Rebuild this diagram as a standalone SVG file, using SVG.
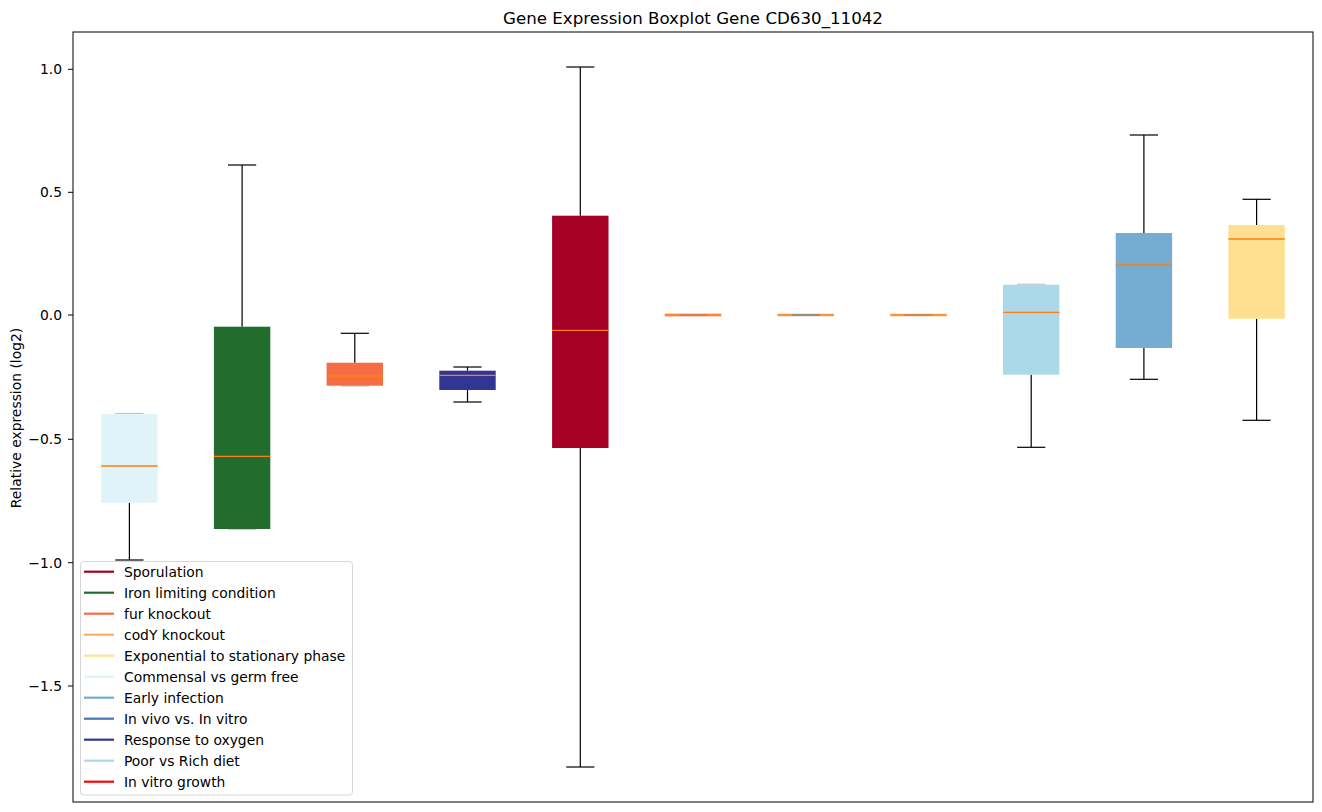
<svg xmlns="http://www.w3.org/2000/svg" width="1322" height="812" viewBox="0 0 1322 812">
<style>
text{font-family:"DejaVu Sans","Liberation Sans",sans-serif;fill:#000}
.tick{font-size:13.89px;text-anchor:end}
.leg{font-size:13.89px}
.wh{stroke:#000;stroke-width:1.2;fill:none}
.cap{stroke:#000;stroke-width:1.2}
.capg{stroke:#c4c4c4;stroke-width:1.2}
.med{stroke:#ff7f0e;stroke-width:1.3}
.ll{stroke-width:2.2}
</style>
<rect x="0" y="0" width="1322" height="812" fill="#fff"/>
<text x="693" y="23.5" font-size="16.67" text-anchor="middle">Gene Expression Boxplot Gene CD630_11042</text>
<g id="axes">
<rect x="73" y="32" width="1240" height="770" fill="none" stroke="#000" stroke-width="1"/>
<g stroke="#000" stroke-width="1">
<line x1="68" y1="69.3" x2="73" y2="69.3"/>
<line x1="68" y1="192.3" x2="73" y2="192.3"/>
<line x1="68" y1="315" x2="73" y2="315"/>
<line x1="68" y1="439.3" x2="73" y2="439.3"/>
<line x1="68" y1="562.7" x2="73" y2="562.7"/>
<line x1="68" y1="686" x2="73" y2="686"/>
</g>
<text class="tick" x="62" y="74.3">1.0</text>
<text class="tick" x="62" y="197.3">0.5</text>
<text class="tick" x="62" y="320">0.0</text>
<text class="tick" x="62" y="444.3">−0.5</text>
<text class="tick" x="62" y="567.7">−1.0</text>
<text class="tick" x="62" y="691">−1.5</text>
<text font-size="13.89" text-anchor="middle" transform="translate(21,418) rotate(-90)">Relative expression (log2)</text>
</g>
<g id="connectors">
<line class="wh" x1="129.4" y1="502.7" x2="129.4" y2="560"/>
<line class="wh" x1="242.1" y1="165" x2="242.1" y2="326.7"/>
<line class="wh" x1="354.8" y1="333.3" x2="354.8" y2="362.7"/>
<line class="wh" x1="467.5" y1="367" x2="467.5" y2="370.7"/>
<line class="wh" x1="467.5" y1="390" x2="467.5" y2="402"/>
<line class="wh" x1="580.3" y1="67" x2="580.3" y2="215.7"/>
<line class="wh" x1="580.3" y1="448" x2="580.3" y2="767"/>
<line class="wh" x1="1031.2" y1="374.7" x2="1031.2" y2="447.3"/>
<line class="wh" x1="1143.9" y1="135" x2="1143.9" y2="233"/>
<line class="wh" x1="1143.9" y1="348" x2="1143.9" y2="379.3"/>
<line class="wh" x1="1256.6" y1="199.3" x2="1256.6" y2="225"/>
<line class="wh" x1="1256.6" y1="318.7" x2="1256.6" y2="420.3"/>
</g>
<g id="box1">
<line class="capg" x1="115.3" y1="413.5" x2="143.5" y2="413.5"/>
<line class="cap" x1="115.3" y1="560" x2="143.5" y2="560"/>
<rect x="101.2" y="414" width="56.4" height="88.7" fill="#e0f3f8"/>
<line class="med" x1="101.2" y1="466" x2="157.6" y2="466"/>
</g>
<g id="box2">
<line class="cap" x1="228" y1="165" x2="256.2" y2="165"/>
<line class="capg" x1="228" y1="529.3" x2="256.2" y2="529.3"/>
<rect x="213.9" y="326.7" width="56.4" height="202.3" fill="#226c2e"/>
<line class="med" x1="213.9" y1="456.3" x2="270.3" y2="456.3"/>
</g>
<g id="box3">
<line class="cap" x1="340.7" y1="333.3" x2="368.9" y2="333.3"/>
<line class="capg" x1="340.7" y1="386" x2="368.9" y2="386"/>
<rect x="326.6" y="362.7" width="56.4" height="23" fill="#f46d43"/>
<line class="med" x1="326.6" y1="376" x2="383" y2="376"/>
</g>
<g id="box4">
<line class="cap" x1="453.4" y1="367" x2="481.6" y2="367"/>
<line class="cap" x1="453.4" y1="402" x2="481.6" y2="402"/>
<rect x="439.3" y="370.7" width="56.4" height="19.3" fill="#313695"/>
<line class="med" x1="439.3" y1="375.3" x2="495.7" y2="375.3"/>
</g>
<g id="box5">
<line class="cap" x1="566.2" y1="67" x2="594.4" y2="67"/>
<line class="cap" x1="566.2" y1="767" x2="594.4" y2="767"/>
<rect x="552.1" y="215.7" width="56.4" height="232.3" fill="#a50026"/>
<line class="med" x1="552.1" y1="330.3" x2="608.5" y2="330.3"/>
</g>
<g id="box6">
<line x1="664.8" y1="315" x2="721.2" y2="315" stroke="#f9a07e" stroke-width="3"/>
<line class="med" x1="664.8" y1="315" x2="721.2" y2="315" stroke="#f4743c"/>
<line x1="678.9" y1="315" x2="707.1" y2="315" stroke="#d9804a" stroke-width="2"/>
</g>
<g id="box7">
<line x1="777.5" y1="315" x2="833.9" y2="315" stroke="#e2d2bd" stroke-width="3"/>
<line class="med" x1="777.5" y1="315" x2="833.9" y2="315" stroke="#ee8a3a"/>
<line x1="791.6" y1="315" x2="819.8" y2="315" stroke="#9c8c78" stroke-width="2"/>
</g>
<g id="box8">
<line x1="890.3" y1="315" x2="946.7" y2="315" stroke="#fdd2a6" stroke-width="3"/>
<line class="med" x1="890.3" y1="315" x2="946.7" y2="315" stroke="#fb8b25"/>
<line x1="904.4" y1="315" x2="932.6" y2="315" stroke="#cd8a50" stroke-width="2"/>
</g>
<g id="box9">
<line class="capg" x1="1017.1" y1="284.2" x2="1045.3" y2="284.2"/>
<line class="cap" x1="1017.1" y1="447.3" x2="1045.3" y2="447.3"/>
<rect x="1003" y="284.7" width="56.4" height="90" fill="#abd9e9"/>
<line class="med" x1="1003" y1="312.3" x2="1059.4" y2="312.3"/>
</g>
<g id="box10">
<line class="cap" x1="1129.8" y1="135" x2="1158" y2="135"/>
<line class="cap" x1="1129.8" y1="379.3" x2="1158" y2="379.3"/>
<rect x="1115.7" y="233" width="56.4" height="115" fill="#74add1"/>
<line class="med" x1="1115.7" y1="265" x2="1172.1" y2="265"/>
</g>
<g id="box11">
<line class="cap" x1="1242.5" y1="199.3" x2="1270.7" y2="199.3"/>
<line class="cap" x1="1242.5" y1="420.3" x2="1270.7" y2="420.3"/>
<rect x="1228.4" y="225" width="56.4" height="93.7" fill="#fee090"/>
<line class="med" x1="1228.4" y1="239" x2="1284.8" y2="239"/>
</g>
<g id="legend">
<rect x="80.5" y="561.5" width="272" height="233.5" rx="3" fill="#fff" fill-opacity="0.8" stroke="#d6d6d6" stroke-width="1"/>
<line class="ll" x1="84" y1="571.7" x2="114" y2="571.7" stroke="#a50026"/>
<line class="ll" x1="84" y1="592.7" x2="114" y2="592.7" stroke="#226c2e"/>
<line class="ll" x1="84" y1="613.7" x2="114" y2="613.7" stroke="#f46d43"/>
<line class="ll" x1="84" y1="634.7" x2="114" y2="634.7" stroke="#fdae61"/>
<line class="ll" x1="84" y1="655.7" x2="114" y2="655.7" stroke="#fee090"/>
<line class="ll" x1="84" y1="676.7" x2="114" y2="676.7" stroke="#e0f3f8"/>
<line class="ll" x1="84" y1="697.7" x2="114" y2="697.7" stroke="#74add1"/>
<line class="ll" x1="84" y1="718.7" x2="114" y2="718.7" stroke="#4575b4"/>
<line class="ll" x1="84" y1="739.7" x2="114" y2="739.7" stroke="#313695"/>
<line class="ll" x1="84" y1="760.7" x2="114" y2="760.7" stroke="#abd9e9"/>
<line class="ll" x1="84" y1="781.7" x2="114" y2="781.7" stroke="#ff0000"/>
<text class="leg" x="124" y="576.7">Sporulation</text>
<text class="leg" x="124" y="597.7">Iron limiting condition</text>
<text class="leg" x="124" y="618.7">fur knockout</text>
<text class="leg" x="124" y="639.7">codY knockout</text>
<text class="leg" x="124" y="660.7">Exponential to stationary phase</text>
<text class="leg" x="124" y="681.7">Commensal vs germ free</text>
<text class="leg" x="124" y="702.7">Early infection</text>
<text class="leg" x="124" y="723.7">In vivo vs. In vitro</text>
<text class="leg" x="124" y="744.7">Response to oxygen</text>
<text class="leg" x="124" y="765.7">Poor vs Rich diet</text>
<text class="leg" x="124" y="786.7">In vitro growth</text>
</g>
</svg>
